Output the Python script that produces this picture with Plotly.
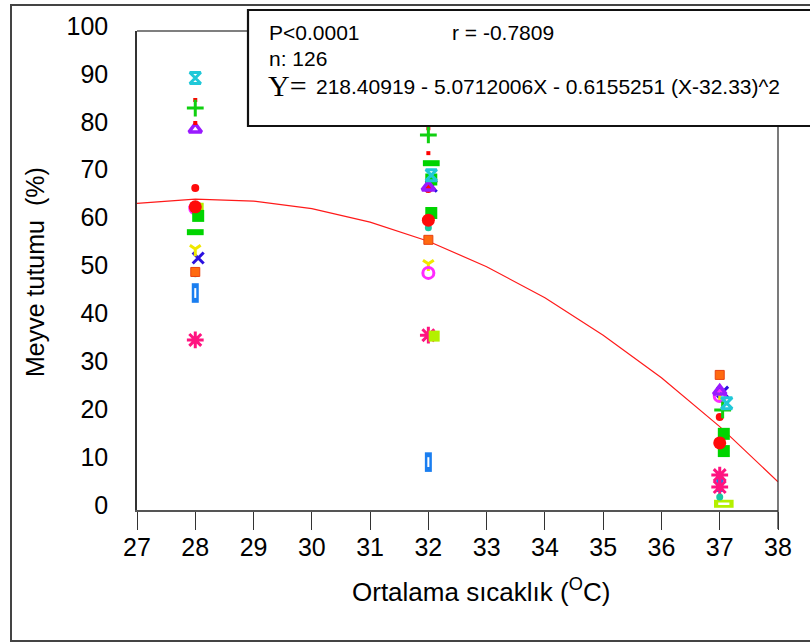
import plotly.graph_objects as go

# ---------------- data ----------------
x_ticks = [27, 28, 29, 30, 31, 32, 33, 34, 35, 36, 37, 38]
y_ticks = [0, 10, 20, 30, 40, 50, 60, 70, 80, 90, 100]

# regression curve read at each integer temperature
curve_x = [27, 28, 29, 30, 31, 32, 33, 34, 35, 36, 37, 38]
curve_y = [64.0, 64.9, 64.5, 62.9, 60.1, 56.1, 50.8, 44.3, 36.5, 27.6, 17.4, 5.9]

z_cyan_x = [28, 32.05, 37.12]
z_cyan_y = [90.2, 69.9, 22.3]
plus_green_x = [28, 32, 37.05]
plus_green_y = [83.9, 78.3, 20.9]
dot_red_x = [28, 28, 32, 32]
dot_red_y = [85.6, 80.8, 79.7, 74.5]
tri_purple_x = [28, 32, 37]
tri_purple_y = [79.5, 67.4, 24.8]
circ_red_small_x = [28, 32, 37]
circ_red_small_y = [67.2, 67.0, 19.4]
circ_magenta_x = [28, 32, 37]
circ_magenta_y = [63.0, 49.5, 23.8]
circ_red_big_x = [28, 32, 37]
circ_red_big_y = [63.3, 60.5, 14.0]
sq_green_x = [28.05, 32.05, 32.05, 37.07, 37.07]
sq_green_y = [61.4, 62.0, 69.0, 15.9, 12.3]
sq_ygreen_x = [28.05, 32.1]
sq_ygreen_y = [63.0, 36.3]
dash_green_x = [28, 32.05]
dash_green_y = [58.0, 72.4]
y_yellow_x = [28, 32, 37]
y_yellow_y = [54.5, 51.4, 24.0]
x_blue_x = [28.05, 32.05, 37.05]
x_blue_y = [52.6, 67.6, 24.6]
sq_orange_x = [28, 32, 37]
sq_orange_y = [49.7, 56.4, 28.2]
circ_teal_x = [28, 32, 37]
circ_teal_y = [49.3, 58.9, 2.7]
rect_blue_x = [28, 32, 37]
rect_blue_y = [45.3, 10.0, 5.8]
ast_pink_x = [28, 32, 37, 37]
ast_pink_y = [35.5, 36.5, 7.3, 4.8]
rect_ygreen_x = [37.07]
rect_ygreen_y = [1.3]

FONT = "Liberation Sans, Arial, sans-serif"

# plot area in pixels
L, R, T, B = 137, 778, 31, 510
W, H = 810, 642


def px(xp):
    return (xp - L) / (R - L)


def py(yp):
    return (B - yp) / (B - T)


fig = go.Figure()

fig.add_trace(go.Scatter(x=curve_x, y=curve_y, mode="lines",
                         line=dict(color="#FF1A1A", width=1.2), hoverinfo="skip"))


def add(xs, ys, symbol, size, color, lw=0, lcolor=None):
    fig.add_trace(go.Scatter(
        x=xs, y=ys, mode="markers",
        marker=dict(symbol=symbol, size=size, color=color,
                    line=dict(width=lw, color=lcolor if lcolor else color))))


add(rect_blue_x, rect_blue_y, "line-ns-open", 14, "#1A7EF0", 7)
add(rect_blue_x, rect_blue_y, "line-ns-open", 7, "white", 2)
add(rect_ygreen_x, rect_ygreen_y, "line-ew-open", 14, "#B4F000", 8)
add(rect_ygreen_x, rect_ygreen_y, "line-ew-open", 8, "white", 2.5)
add(ast_pink_x, ast_pink_y, "asterisk-open", 14, "#FF1480", 3)
add(circ_teal_x, circ_teal_y, "circle", 7, "#18C8A0")
add(sq_orange_x, sq_orange_y, "square", 9, "#FF6A10", 1, "#E84010")
add(x_blue_x, x_blue_y, "x-thin-open", 11, "#2A10E0", 3)
add(y_yellow_x, y_yellow_y, "y-down-open", 9, "#F0E800", 3)
add(circ_magenta_x, circ_magenta_y, "circle-open", 11, "#FF2AFF", 3)
add(sq_ygreen_x, sq_ygreen_y, "square", 11, "#B4F000")
add(sq_green_x, sq_green_y, "square", 12, "#00D400")
add(dash_green_x, dash_green_y, "line-ew-open", 12, "#00D400", 6)
add(circ_red_big_x, circ_red_big_y, "circle", 13, "#FF0A0A")
add(circ_red_small_x, circ_red_small_y, "circle", 8, "#FF0A0A")
add(tri_purple_x, tri_purple_y, "triangle-up-open", 11, "#9A1AFF", 3.5)
add(dot_red_x, dot_red_y, "square", 4, "#FF0000")
add(plus_green_x, plus_green_y, "cross-thin-open", 12, "#10D010", 3)
add(z_cyan_x, z_cyan_y, "hourglass-open", 11, "#20C8D8", 3)

shapes = [
    # outer frame
    dict(type="rect", xref="paper", yref="paper", x0=px(11), x1=px(830),
         y0=py(641), y1=py(5), line=dict(color="#444", width=2), layer="below"),
    # plot frame: top and right
    dict(type="line", xref="paper", yref="paper", x0=0, x1=px(250), y0=1, y1=1,
         line=dict(color="#555", width=1.5)),
    dict(type="line", xref="paper", yref="paper", x0=1, x1=1, y0=py(529), y1=py(126),
         line=dict(color="#333", width=1.3)),
    # statistics box
    dict(type="rect", xref="paper", yref="paper", x0=px(248), x1=px(830),
         y0=py(126), y1=py(10), fillcolor="white",
         line=dict(color="#111", width=2.2), layer="above"),
]

ann_font = dict(family=FONT, size=21, color="black")
annotations = [
    dict(text="P<0.0001", x=px(267), y=py(33), xanchor="left", yanchor="middle",
         font=ann_font),
    dict(text="r = -0.7809", x=px(450), y=py(33), xanchor="left", yanchor="middle",
         font=ann_font),
    dict(text="n: 126", x=px(267), y=py(58), xanchor="left", yanchor="middle",
         font=ann_font),
    dict(text="Y=", x=px(266), y=py(86), xanchor="left", yanchor="middle",
         font=dict(family="Liberation Serif, Times New Roman, serif", size=30, color="black")),
    dict(text="218.40919 - 5.0712006X - 0.6155251 (X-32.33)^2", x=px(314), y=py(87),
         xanchor="left", yanchor="middle", font=ann_font),
    dict(text="Ortalama sıcaklık (<sup>O</sup>C)", x=px(481), y=py(590),
         xanchor="center", yanchor="middle",
         font=dict(family=FONT, size=26, color="black")),
    dict(text="Meyve tutumu  (%)", x=px(35), y=py(272), textangle=-90,
         xanchor="center", yanchor="middle",
         font=dict(family=FONT, size=25, color="black")),
]
for a in annotations:
    a.update(xref="paper", yref="paper", showarrow=False)

fig.update_layout(
    width=W, height=H,
    margin=dict(l=L, r=W - R, t=T, b=H - B, pad=0),
    paper_bgcolor="white", plot_bgcolor="white",
    showlegend=False,
    shapes=shapes, annotations=annotations,
    font=dict(family=FONT, color="black"),
    xaxis=dict(range=[27, 38], tickvals=x_ticks, ticktext=[str(v) for v in x_ticks],
               ticks="outside", ticklen=18, tickwidth=1.3, tickcolor="#333",
               showline=True, linecolor="#555", linewidth=2,
               showgrid=False, zeroline=False, ticklabelstandoff=-4,
               tickfont=dict(family=FONT, size=25, color="black")),
    yaxis=dict(range=[0, 100], tickvals=y_ticks, ticktext=[str(v) for v in y_ticks],
               ticks="", showline=True, linecolor="#333", linewidth=1.5,
               showgrid=False, zeroline=False, ticklabelshift=-5,
               ticklabelstandoff=22,
               tickfont=dict(family=FONT, size=25, color="black")),
)

fig.write_html("out.html")
